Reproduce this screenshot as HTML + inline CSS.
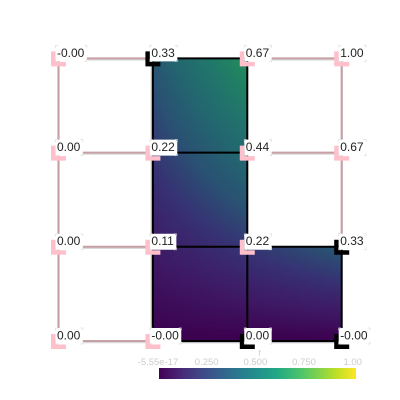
<!DOCTYPE html>
<html lang="en">
<head>
<meta charset="utf-8">
<title>Scalar field on grid</title>
<style>
html,body{margin:0;padding:0;background:#fff;width:400px;height:400px;overflow:hidden}
svg{display:block;font-family:"Liberation Sans",sans-serif}
</style>
</head>
<body>
<svg id="plot" xmlns="http://www.w3.org/2000/svg" width="400" height="400" viewBox="0 0 400 400">
  <defs>
    <linearGradient id="viridis" x1="0" x2="1" y1="0" y2="0"></linearGradient>
  </defs>
  <g id="cells"></g>
  <g id="edges"></g>
  <g id="markers"></g>
  <g id="labels"></g>
  <g id="colorbar"></g>
</svg>
<script>
// Chart data
const xNodes = [0, 1, 2, 3];
const yNodes = [3, 2, 1, 0];
const nodeValues = [
  [0, 0.33, 0.67, 1.00],
  [0, 0.22, 0.44, 0.67],
  [0, 0.11, 0.22, 0.33],
  [0, 0, 0, 0]
];
const nodeLabels = [
  ["-0.00", "0.33", "0.67", "1.00"],
  ["0.00", "0.22", "0.44", "0.67"],
  ["0.00", "0.11", "0.22", "0.33"],
  ["0.00", "-0.00", "0.00", "-0.00"]
];
// [row, column] of each filled cell
const filledCells = [[0, 1], [1, 1], [2, 1], [2, 2]];
// nodes whose marker is black rather than pink, as [row, column]
const blackNodes = [[0, 1], [2, 3], [3, 2], [3, 3]];
const colorbarTicks = [0, 0.25, 0.5, 0.75, 1];
const colorbarTickLabels = ["-5.55e-17", "0.250", "0.500", "0.750", "1.00"];
const colorbarTitle = "f";
const viridisStops = ["#440154","#482475","#414487","#355f8d","#2a788e","#21918c","#22a884","#44bf70","#7ad151","#bddf26","#fde725"];
// the lit surface reads darker than the colorbar ramp
const surfaceStops = ["#3c004e","#3e1964","#373073","#2a5073","#236470","#21736c","#218262","#269158","#5aa546","#a5be2d","#e1d21e"];

// Axis functions
const sx = v => 58.5 + v * 94.4;
const sy = v => 341 - v * 94.2;
const cbX = v => 159 + v * 197;
const cbLabelX = v => 158 + v * 194.7;
const SVGNS = "http://www.w3.org/2000/svg";
const make = (tag, attrs, parent) => {
  const el = document.createElementNS(SVGNS, tag);
  for (const k in attrs) el.setAttribute(k, attrs[k]);
  parent.appendChild(el);
  return el;
};
const hexToRgb = h => [1, 3, 5].map(i => parseInt(h.substr(i, 2), 16));
const stopsRgb = surfaceStops.map(hexToRgb);
const surfaceColor = t => {
  const p = Math.max(0, Math.min(1, t)) * (stopsRgb.length - 1);
  const i = Math.min(Math.floor(p), stopsRgb.length - 2);
  const f = p - i;
  const c = stopsRgb[i].map((a, k) => Math.round(a + (stopsRgb[i + 1][k] - a) * f));
  return "rgb(" + c.join(",") + ")";
};

// Heatmap cells: bilinear shading between the node values
const cellsG = document.getElementById("cells");
const SUB = 32;
filledCells.forEach(([r, c]) => {
  const g = make("g", { "shape-rendering": "crispEdges" }, cellsG);
  
  
  const x0 = sx(xNodes[c]), x1 = sx(xNodes[c + 1]);
  const y0 = sy(yNodes[r]), y1 = sy(yNodes[r + 1]);
  const tl = nodeValues[r][c], tr = nodeValues[r][c + 1];
  const bl = nodeValues[r + 1][c], br = nodeValues[r + 1][c + 1];
  for (let i = 0; i < SUB; i++) {
    for (let j = 0; j < SUB; j++) {
      const u = (i + 0.5) / SUB, w = (j + 0.5) / SUB;
      const v = tl * (1 - u) * (1 - w) + tr * u * (1 - w) + bl * (1 - u) * w + br * u * w;
      const rect = make("rect", {
        x: x0 + (x1 - x0) * i / SUB,
        y: y0 + (y1 - y0) * j / SUB,
        width: (x1 - x0) / SUB + 0.4,
        height: (y1 - y0) / SUB + 0.4,
        fill: surfaceColor(v)
      }, g);
      
      
    }
  }
});

// Mesh edges
const edgesG = document.getElementById("edges");
const isFilled = (r, c) => filledCells.some(p => p[0] === r && p[1] === c);
const drawEdge = (x1, y1, x2, y2, solid, shadow) => {
  const horiz = y1 === y2;
  if (shadow) {
    const dx = horiz ? 0 : (solid ? -1 : 0), dy = horiz ? 1 : 0;
    const under = make("line", { x1: x1 + dx, y1: y1 + dy, x2: x2 + dx, y2: y2 + dy, stroke: solid ? "#bdbdbd" : "#d9d9d9", "stroke-width": 2.4 }, edgesG);
    
    
  }
  const line = make("line", { x1: x1, y1: y1, x2: x2, y2: y2, stroke: solid ? "#000" : "#c6a0a5", "stroke-width": 2 }, edgesG);
  
  
};
const edgeList = [];
yNodes.forEach((yv, r) => {
  xNodes.forEach((xv, c) => {
    if (c < xNodes.length - 1) {
      const below = isFilled(r, c), above = isFilled(r - 1, c);
      edgeList.push([sx(xv), sy(yv), sx(xNodes[c + 1]), sy(yv), below || above, above ? !below : !below]);
    }
    if (r < yNodes.length - 1) {
      const right = isFilled(r, c), left = isFilled(r, c - 1);
      edgeList.push([sx(xv), sy(yv), sx(xv), sy(yNodes[r + 1]), right || left, !left]);
    }
  });
});
edgeList.sort((a, b) => a[4] - b[4]).forEach(e => drawEdge(e[0], e[1], e[2], e[3], e[4], e[5]));

// Node markers and labels
const markersG = document.getElementById("markers");
const labelsG = document.getElementById("labels");
yNodes.forEach((yv, r) => {
  xNodes.forEach((xv, c) => {
    const nx = sx(xv), ny = sy(yv);
    const black = blackNodes.some(p => p[0] === r && p[1] === c);
    const marker = make("path", {
      d: "M" + (nx - 7.5) + " " + (ny - 7) + "h4.5v10.5h10.5v4.5h-15z",
      fill: black ? "#000" : "#ffc0cb"
    }, markersG);
    
    

    const bx = nx - 3, by = ny - 13;
    const box = make("rect", { x: bx, y: by, width: 27, height: 16, rx: 2.5, fill: "#fff" }, labelsG);
    
    
    const t = make("text", { x: bx + 1.5, y: by + 11.4, "font-size": 12, fill: "#222" }, labelsG);
    
    
    t.textContent = nodeLabels[r][c];
    const w = t.getComputedTextLength() + 4;
    box.setAttribute('width', w);
    const corner = 2.5, h = 16;
    const corners = make("path", {
      d: "M" + bx + " " + (by + corner) + "V" + by + "H" + (bx + corner) +
         "M" + (bx + w - corner) + " " + by + "H" + (bx + w) + "V" + (by + corner) +
         "M" + (bx + w) + " " + (by + h - corner) + "V" + (by + h) + "H" + (bx + w - corner) +
         "M" + (bx + corner) + " " + (by + h) + "H" + bx + "V" + (by + h - corner),
      fill: "none", stroke: "#dddddd", "stroke-width": 0.7
    }, labelsG);
    
    
  });
});

// Colorbar
const cb = document.getElementById("colorbar");
const grad = document.getElementById("viridis");
viridisStops.forEach((col, i) => {
  const s = make("stop", { offset: (i / (viridisStops.length - 1)), "stop-color": col }, grad);
  
  
});
const bar = make("rect", { x: cbX(0), y: 368, width: cbX(1) - cbX(0), height: 11, fill: "url(#viridis)" }, cb);


colorbarTicks.forEach((v, i) => {
  const lab = make("text", { x: cbLabelX(v), y: 365, "text-anchor": "middle", "font-size": 9.5, fill: "#cccccc" }, cb);
  
  
  lab.textContent = colorbarTickLabels[i];
});
const title = make("text", { x: 259.5, y: 356, "text-anchor": "middle", "font-size": 8, fill: "#cccccc" }, cb);


title.textContent = colorbarTitle;
</script>
</body>
</html>
